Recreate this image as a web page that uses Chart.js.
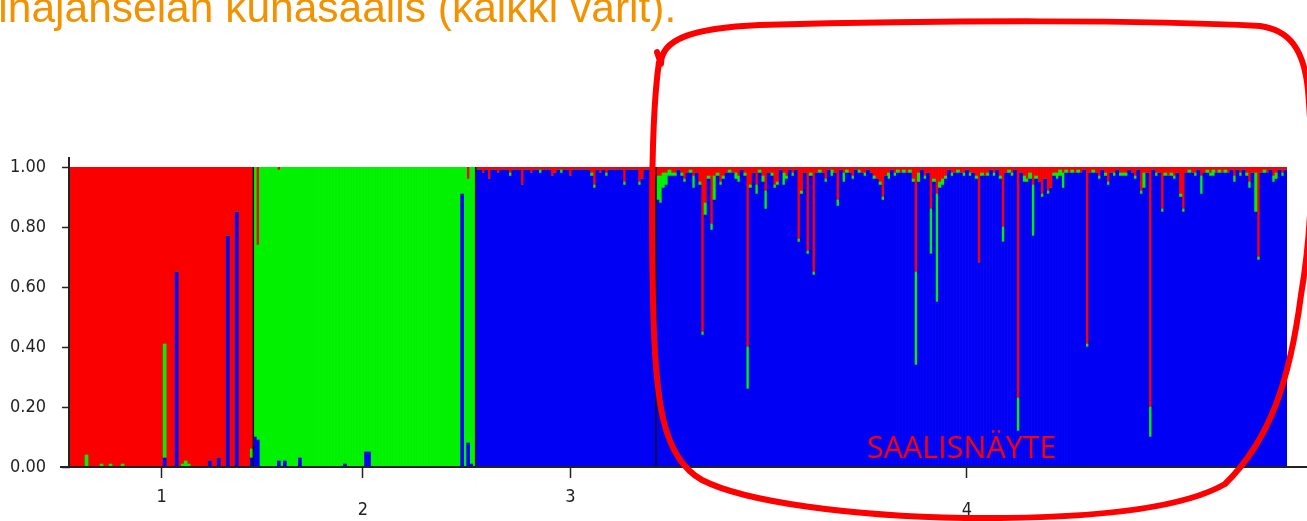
<!DOCTYPE html>
<html>
<head>
<meta charset="utf-8">
<script src="https://cdn.jsdelivr.net/npm/chart.js@4.4.1/dist/chart.umd.min.js"></script>
<style>
  body { margin: 0; background: #fff; }
  #wrap { position: relative; width: 1307px; height: 521px; overflow: hidden; }
  canvas { position: absolute; left: 0; top: 0; }
  #title { position: absolute; left: -30px; top: -13px; font-family: "Liberation Sans", Arial, sans-serif; font-size: 42.5px; line-height: 42.5px; color: #f39200; white-space: nowrap; }
  #note { position: absolute; left: 867px; top: 431px; font-family: "Open Sans", sans-serif; font-size: 30.5px; line-height: 30px; color: #ff0000; white-space: nowrap; }
</style>
</head>
<body>
<div id="wrap">
  <canvas id="structureChart" width="1307" height="521"></canvas>
  <div id="title">Pihajanselän kuhasaalis (kaikki värit).</div>
  <div id="note">SAALISNÄYTE</div>
</div>
<script>
// population names (x axis) and the individual each name sits under
const populations = ['1', '2', '3', '4'];
const labelIndex = [30, 36, 31, 103];

// ancestry proportions per individual
const pop1Red = [1,1,1,1,1,0.96,1,1,1,1,
  0.99,1,1,0.99,1,1,1,0.99,1,1,
  1,1,1,1,1,1,1,1,1,1,
  1,0.59,1,1,1,0.35,1,0.99,0.98,0.99,
  1,1,1,1,1,1,0.98,1,1,0.97,
  1,1,0.23,1,1,0.15,1,1,1,1,
  0.94];
const pop1Green = [0,0,0,0,0,0.04,0,0,0,0,
  0.01,0,0,0.01,0,0,0,0.01,0,0,
  0,0,0,0,0,0,0,0,0,0,
  0,0.38,0,0,0,0,0,0.01,0.02,0.01,
  0,0,0,0,0,0,0,0,0,0,
  0,0,0,0,0,0,0,0,0,0,
  0.03];
const pop1Blue = [0,0,0,0,0,0,0,0,0,0,
  0,0,0,0,0,0,0,0,0,0,
  0,0,0,0,0,0,0,0,0,0,
  0,0.03,0,0,0,0.65,0,0,0,0,
  0,0,0,0,0,0,0.02,0,0,0.03,
  0,0,0.77,0,0,0.85,0,0,0,0,
  0.03];

const pop2Red = [0,0.26,0,0,0,0,0,0,0.01,0,
  0,0,0,0,0,0,0,0,0,0,
  0,0,0,0,0,0,0,0,0,0,
  0,0,0,0,0,0,0,0,0,0,
  0,0,0,0,0,0,0,0,0,0,
  0,0,0,0,0,0,0,0,0,0,
  0,0,0,0,0,0,0,0,0,0,
  0,0.04,0,0];
const pop2Green = [0.90,0.65,1,1,1,1,1,1,0.97,1,
  0.98,1,1,1,1,0.97,1,1,1,1,
  1,1,1,1,1,1,1,1,1,1,
  0.99,1,1,1,1,1,1,0.95,0.95,1,
  1,1,1,1,1,1,1,1,1,1,
  1,1,1,1,1,1,1,1,1,1,
  1,1,1,1,1,1,1,1,1,0.09,
  1,0.88,0.99,1];
const pop2Blue = [0.10,0.09,0,0,0,0,0,0,0.02,0,
  0.02,0,0,0,0,0.03,0,0,0,0,
  0,0,0,0,0,0,0,0,0,0,
  0.01,0,0,0,0,0,0,0.05,0.05,0,
  0,0,0,0,0,0,0,0,0,0,
  0,0,0,0,0,0,0,0,0,0,
  0,0,0,0,0,0,0,0,0,0.91,
  0,0.08,0.01,0];

const pop3Red = [0.01,0.01,0.02,0.01,0.04,0.01,0.01,0.02,0.01,0.01,
  0.01,0.02,0.01,0.01,0.01,0.06,0.01,0.01,0.02,0.01,
  0.01,0.01,0.01,0.01,0.01,0.03,0.02,0.01,0.01,0.01,
  0.01,0.03,0.01,0.01,0.01,0.01,0.01,0.01,0.02,0.06,
  0.01,0.02,0.01,0.02,0.01,0.01,0.01,0.01,0.01,0.05,
  0.01,0.01,0.01,0.01,0.05,0.04,0.01,0.01,0.01,0.01];
const pop3Green = [0,0,0,0,0,0,0,0,0,0,
  0,0.01,0,0,0,0,0,0,0,0,
  0,0.01,0,0,0,0,0,0,0.01,0,
  0,0,0,0,0,0,0,0,0.01,0.01,
  0,0,0,0.01,0,0,0,0,0,0.01,
  0,0,0,0,0.01,0,0,0,0,0];
const pop3Blue = [0.99,0.99,0.98,0.99,0.96,0.99,0.99,0.98,0.99,0.99,
  0.99,0.97,0.99,0.99,0.99,0.94,0.99,0.99,0.98,0.99,
  0.99,0.98,0.99,0.99,0.99,0.97,0.98,0.99,0.98,0.99,
  0.99,0.97,0.99,0.99,0.99,0.99,0.99,0.99,0.97,0.93,
  0.99,0.98,0.99,0.97,0.99,0.99,0.99,0.99,0.99,0.94,
  0.99,0.99,0.99,0.99,0.94,0.96,0.99,0.99,0.99,0.99];

const pop4Red = [0.03,0.03,0.02,0.02,0.01,0.02,0.02,0.01,0.02,0.04,
  0.02,0.01,0.03,0.02,0.05,0.55,0.12,0.03,0.19,0.03,
  0.02,0.05,0.03,0.02,0.01,0.02,0.02,0.03,0.01,0.02,
  0.60,0.06,0.02,0.06,0.01,0.03,0.08,0.02,0.02,0.06,
  0.05,0.01,0.02,0.03,0.01,0.02,0.01,0.24,0.08,0.02,
  0.28,0.02,0.35,0.02,0.01,0.02,0.04,0.01,0.01,0.02,
  0.11,0.01,0.02,0.01,0.02,0.03,0.01,0.01,0.02,0.02,
  0.01,0.02,0.03,0.04,0.05,0.10,0.03,0.02,0.01,0.02,
  0.01,0.02,0.01,0.02,0.01,0.04,0.35,0.02,0.01,0.03,
  0.02,0.14,0.04,0.09,0.05,0.04,0.03,0.01,0.02,0.02,
  0.01,0.02,0.02,0.01,0.02,0.02,0.03,0.32,0.02,0.03,
  0.02,0.01,0.02,0.01,0.03,0.20,0.02,0.01,0.02,0.01,
  0.77,0.02,0.03,0.04,0.02,0.06,0.03,0.05,0.09,0.04,
  0.08,0.07,0.02,0.02,0.01,0.02,0.01,0.02,0.01,0.02,
  0.01,0.02,0.01,0.59,0.02,0.01,0.02,0.03,0.01,0.02,
  0.05,0.02,0.02,0.01,0.02,0.02,0.02,0.01,0.02,0.03,
  0.01,0.08,0.02,0.02,0.80,0.01,0.02,0.02,0.14,0.02,
  0.03,0.02,0.03,0.02,0.09,0.14,0.02,0.01,0.02,0.02,
  0.01,0.03,0.02,0.01,0.02,0.01,0.02,0.01,0.02,0.01,
  0.02,0.01,0.03,0.01,0.02,0.01,0.02,0.05,0.02,0.02,
  0.30,0.02,0.01,0.02,0.01,0.03,0.02,0.01,0.02,0.01];
const pop4Green = [0.08,0.09,0.05,0.04,0.02,0.01,0.01,0,0.01,0.01,
  0,0.01,0.04,0,0.01,0.01,0.04,0.01,0.02,0.08,
  0.01,0.01,0.01,0,0.01,0,0.02,0.02,0,0.01,
  0.14,0.01,0,0.03,0.01,0.02,0.06,0,0.01,0.01,
  0.01,0,0.04,0.01,0,0.01,0,0.01,0.01,0,
  0.01,0.01,0.01,0,0.01,0,0.01,0,0.02,0,
  0.02,0,0.03,0.01,0,0.01,0,0.01,0,0.01,
  0,0,0.01,0,0.01,0.01,0,0.02,0,0.01,
  0.01,0,0.01,0,0.01,0.01,0.31,0.03,0,0.01,
  0,0.15,0.01,0.36,0.02,0.02,0.01,0,0.01,0,
  0.01,0,0.01,0,0.01,0,0.01,0,0.01,0,
  0.01,0,0.01,0,0.01,0.05,0,0.01,0.01,0,
  0.11,0,0.02,0.01,0.02,0.17,0.01,0,0.01,0,
  0.01,0,0.01,0.02,0.02,0.05,0.01,0,0.01,0,
  0.01,0,0,0.01,0,0.01,0,0.01,0,0.01,
  0.01,0,0.01,0,0.01,0.01,0.01,0,0,0.01,
  0,0.01,0.05,0,0.10,0,0.01,0,0.01,0.01,
  0,0.01,0.01,0,0.01,0.01,0,0.01,0,0.01,
  0,0.06,0,0.01,0.01,0.02,0,0.01,0,0.01,
  0,0,0.02,0,0.01,0,0.01,0.02,0,0.13,
  0.01,0,0.01,0,0,0.02,0.02,0,0.01,0];
const pop4Blue = [0.89,0.88,0.93,0.94,0.97,0.97,0.97,0.99,0.97,0.95,
  0.98,0.98,0.93,0.98,0.94,0.44,0.84,0.96,0.79,0.89,
  0.97,0.94,0.96,0.98,0.98,0.98,0.96,0.95,0.99,0.97,
  0.26,0.93,0.98,0.91,0.98,0.95,0.86,0.98,0.97,0.93,
  0.94,0.99,0.94,0.96,0.99,0.97,0.99,0.75,0.91,0.98,
  0.71,0.97,0.64,0.98,0.98,0.98,0.95,0.99,0.97,0.98,
  0.87,0.99,0.95,0.98,0.98,0.96,0.99,0.98,0.98,0.97,
  0.99,0.98,0.96,0.96,0.94,0.89,0.97,0.96,0.99,0.97,
  0.98,0.98,0.98,0.98,0.98,0.95,0.34,0.95,0.99,0.96,
  0.98,0.71,0.95,0.55,0.93,0.94,0.96,0.99,0.97,0.98,
  0.98,0.98,0.97,0.99,0.97,0.98,0.96,0.68,0.97,0.97,
  0.97,0.99,0.97,0.99,0.96,0.75,0.98,0.98,0.97,0.99,
  0.12,0.98,0.95,0.95,0.96,0.77,0.96,0.95,0.90,0.96,
  0.91,0.93,0.97,0.96,0.97,0.93,0.98,0.98,0.98,0.98,
  0.98,0.98,0.99,0.40,0.98,0.98,0.98,0.96,0.99,0.97,
  0.94,0.98,0.97,0.99,0.97,0.97,0.97,0.99,0.98,0.96,
  0.99,0.91,0.93,0.98,0.10,0.99,0.97,0.98,0.85,0.97,
  0.97,0.97,0.96,0.98,0.90,0.85,0.98,0.98,0.98,0.97,
  0.99,0.91,0.98,0.98,0.97,0.97,0.98,0.98,0.98,0.98,
  0.98,0.99,0.95,0.99,0.97,0.99,0.97,0.93,0.98,0.85,
  0.69,0.98,0.98,0.98,0.99,0.95,0.96,0.99,0.97,0.99];

const redQ = [...pop1Red, ...pop2Red, ...pop3Red, ...pop4Red];
const greenQ = [...pop1Green, ...pop2Green, ...pop3Green, ...pop4Green];
const blueQ = [...pop1Blue, ...pop2Blue, ...pop3Blue, ...pop4Blue];
const popSizes = [pop1Red.length, pop2Red.length, pop3Red.length, pop4Red.length];

// one category per individual, population number under one of them
const xLabels = [];
populations.forEach((name, p) => {
  for (let i = 0; i < popSizes[p]; i++) {
    if (i === labelIndex[p]) xLabels.push(p % 2 ? ['', name] : name);
    else xLabels.push('');
  }
});

const axisFont = { family: '"DejaVu Sans"', weight: 'condensed', size: 18 };

const overlay = {
  id: 'overlay',
  afterDatasetsDraw(chart) {
    const { ctx, chartArea: a, scales: { x } } = chart;
    ctx.save();
    // dividers between populations
    ctx.strokeStyle = '#111';
    ctx.lineWidth = 1.5;
    let start = 0;
    popSizes.slice(0, -1).forEach(n => {
      start += n;
      const px = (x.getPixelForValue(start - 1) + x.getPixelForValue(start)) / 2;
      ctx.beginPath();
      ctx.moveTo(px, a.top);
      ctx.lineTo(px, a.bottom);
      ctx.stroke();
    });
    // axis lines
    ctx.strokeStyle = '#222';
    ctx.lineWidth = 2;
    ctx.beginPath();
    ctx.moveTo(a.left - 1, a.top - 10);
    ctx.lineTo(a.left - 1, a.bottom);
    ctx.moveTo(a.left - 10, a.bottom);
    ctx.lineTo(chart.width, a.bottom);
    ctx.stroke();
    ctx.restore();
  },
  afterDraw(chart) {
    // hand drawn ring round the catch sample
    const ctx = chart.ctx;
    ctx.save();
    ctx.strokeStyle = '#ff0000';
    ctx.lineWidth = 6;
    ctx.lineCap = 'round';
    ctx.lineJoin = 'round';
    ctx.beginPath();
    ctx.moveTo(657, 52);
    ctx.lineTo(661, 64);
    ctx.bezierCurveTo(661, 40, 690, 28, 760, 25);
    ctx.bezierCurveTo(950, 20, 1150, 20, 1260, 26);
    ctx.bezierCurveTo(1290, 30, 1304, 50, 1308, 90);
    ctx.bezierCurveTo(1314, 160, 1312, 230, 1301, 295);
    ctx.bezierCurveTo(1290, 380, 1270, 440, 1225, 484);
    ctx.bezierCurveTo(1180, 510, 1080, 519, 965, 518);
    ctx.bezierCurveTo(850, 516, 745, 502, 702, 480);
    ctx.bezierCurveTo(662, 458, 655, 400, 653, 300);
    ctx.bezierCurveTo(651, 200, 652, 110, 659, 62);
    ctx.stroke();
    ctx.restore();
  }
};

const ctx = document.getElementById('structureChart').getContext('2d');
new Chart(ctx, {
  type: 'bar',
  data: {
    labels: xLabels,
    datasets: [
      { label: 'blue', data: blueQ, backgroundColor: '#0000f5' },
      { label: 'green', data: greenQ, backgroundColor: '#00f200' },
      { label: 'red', data: redQ, backgroundColor: '#fa0000' }
    ]
  },
  options: {
    responsive: false,
    animation: false,
    datasets: { bar: { barPercentage: 1, categoryPercentage: 1, borderWidth: 0 } },
    layout: { padding: { left: 0, right: 20, top: 167, bottom: 0 } },
    plugins: { legend: { display: false }, tooltip: { enabled: false } },
    scales: {
      x: {
        stacked: true,
        border: { display: false },
        grid: {
          offset: false,
          drawOnChartArea: false,
          tickLength: 11,
          tickWidth: 1.5,
          tickColor: c => (xLabels[c.index] ? '#222' : 'rgba(0,0,0,0)')
        },
        ticks: {
          autoSkip: false,
          maxRotation: 0,
          minRotation: 0,
          padding: 13,
          color: '#222',
          font: Object.assign({ lineHeight: 0.72 }, axisFont)
        },
        afterFit: s => { s.height = 54; }
      },
      y: {
        stacked: true,
        min: 0,
        max: 1,
        border: { display: false },
        grid: { drawOnChartArea: false, tickLength: 8, tickWidth: 1.5, tickColor: '#222' },
        ticks: {
          stepSize: 0.2,
          padding: 16,
          color: '#222',
          font: axisFont,
          callback: v => v.toFixed(2)
        },
        afterFit: s => { s.width = 70; }
      }
    }
  },
  plugins: [overlay]
});
</script>
</body>
</html>
